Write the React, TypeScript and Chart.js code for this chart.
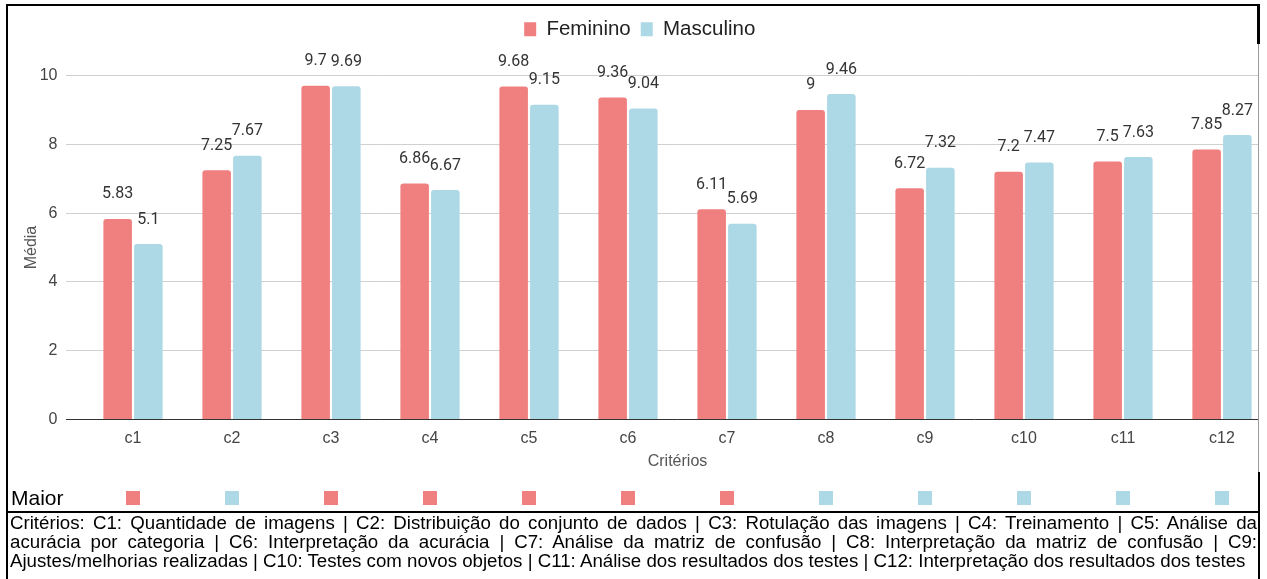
import React, { useEffect, useRef } from 'react';
import { Chart, registerables } from 'chart.js';

Chart.register(...registerables);

const categories = ['c1', 'c2', 'c3', 'c4', 'c5', 'c6', 'c7', 'c8', 'c9', 'c10', 'c11', 'c12'];
const seriesNames = ['Feminino', 'Masculino'];
const feminino = [5.83, 7.25, 9.7, 6.86, 9.68, 9.36, 6.11, 9, 6.72, 7.2, 7.5, 7.85];
const masculino = [5.1, 7.67, 9.69, 6.67, 9.15, 9.04, 5.69, 9.46, 7.32, 7.47, 7.63, 8.27];
const yTickValues = [0, 2, 4, 6, 8, 10];
const xTitle = 'Critérios';
const yTitle = 'Média';
const rowLabel = 'Maior';
const footerLines = [
  'Critérios: C1: Quantidade de imagens | C2: Distribuição do conjunto de dados | C3: Rotulação das imagens | C4: Treinamento | C5: Análise da',
  'acurácia por categoria | C6: Interpretação da acurácia | C7: Análise da matriz de confusão | C8: Interpretação da matriz de confusão | C9:',
  'Ajustes/melhorias realizadas | C10: Testes com novos objetos | C11: Análise dos resultados dos testes | C12: Interpretação dos resultados dos testes',
];

const RED = '#F08080';
const BLUE = '#ADD8E6';
const FONT = '"Liberation Sans", Arial, sans-serif';

const legendSpacer = {
  id: 'legendSpacer',
  beforeInit(chart: any) {
    const lg = chart.legend;
    if (!lg || lg.__patched) return;
    const fit = lg.fit;
    lg.fit = function () {
      fit.call(this);
      this.height += 26;
    };
    lg.__patched = true;
  },
};

const valueLabels = {
  id: 'valueLabels',
  afterDatasetsDraw(chart: any) {
    const ctx = chart.ctx;
    ctx.save();
    ctx.font = '16px Roboto, "Noto Sans", sans-serif';
    ctx.fillStyle = '#333333';
    ctx.textAlign = 'center';
    ctx.textBaseline = 'middle';
    chart.data.datasets.forEach((ds: any, di: number) => {
      const meta = chart.getDatasetMeta(di);
      meta.data.forEach((el: any, i: number) => {
        ctx.fillText(String(ds.data[i]), el.x, el.y - 24.5);
      });
    });
    const xs = chart.scales.x;
    categories.forEach((_c, i) => {
      const x = xs.getPixelForValue(i);
      ctx.fillStyle = feminino[i] > masculino[i] ? RED : BLUE;
      ctx.fillRect(Math.round(x - 7), 485, 14, 14);
    });
    ctx.restore();
  },
};

function BarChart() {
  const ref = useRef<HTMLCanvasElement | null>(null);
  useEffect(() => {
    if (!ref.current) return;
    const chart = new Chart(ref.current, {
      type: 'bar',
      data: {
        labels: categories,
        datasets: [
          {
            label: seriesNames[0],
            data: feminino,
            backgroundColor: RED,
            borderRadius: 3,
            borderSkipped: 'start',
            categoryPercentage: 0.62,
            barPercentage: 0.93,
          },
          {
            label: seriesNames[1],
            data: masculino,
            backgroundColor: BLUE,
            borderRadius: 3,
            borderSkipped: 'start',
            categoryPercentage: 0.62,
            barPercentage: 0.93,
          },
        ],
      },
      options: {
        responsive: false,
        animation: false,
        devicePixelRatio: 1,
        layout: { padding: { top: 3, right: 16.5, bottom: 39, left: 0 } },
        plugins: {
          legend: {
            display: true,
            position: 'top',
            labels: {
              boxWidth: 12,
              boxHeight: 14,
              padding: 10,
              color: '#222222',
              font: { family: FONT, size: 20.5 },
            },
          },
          tooltip: { enabled: false },
        },
        scales: {
          x: {
            grid: { display: false, drawTicks: false },
            border: { display: false },
            ticks: {
              padding: 9,
              color: '#444444',
              font: { family: FONT, size: 16, lineHeight: 1.2 },
            },
            title: {
              display: true,
              text: xTitle,
              color: '#555555',
              padding: { top: -5, bottom: 0 },
              font: { family: FONT, size: 16, lineHeight: 1.2 },
            },
          },
          y: {
            min: 0,
            max: 10,
            afterBuildTicks(scale: any) {
              scale.ticks = yTickValues.map((v) => ({ value: v }));
            },
            afterFit(scale: any) {
              scale.width = 75.5;
            },
            grid: {
              color: (c: any) => (c.tick && c.tick.value === 0 ? '#333333' : '#d0d0d0'),
              lineWidth: 1,
              drawTicks: true,
              tickLength: 17.5,
            },
            border: { display: false },
            ticks: {
              padding: 8.5,
              color: '#444444',
              font: { family: FONT, size: 16 },
            },
            title: {
              display: true,
              text: yTitle,
              color: '#555555',
              padding: { top: 13.6, bottom: 0 },
              font: { family: FONT, size: 16, lineHeight: 1.2 },
            },
          },
        },
      },
      plugins: [legendSpacer, valueLabels],
    } as any);
    return () => chart.destroy();
  }, []);
  return <canvas ref={ref} width={1280} height={504} style={{ display: 'block', width: 1280, height: 504 }} />;
}

export default function App() {
  const black = '#000000';
  return (
    <div
      style={{
        position: 'fixed',
        left: 0,
        top: 0,
        width: 1267,
        height: 579,
        background: '#ffffff',
        overflow: 'hidden',
      }}
    >
      <div style={{ position: 'absolute', left: 8, top: 6, width: 1250, height: 504, overflow: 'hidden' }}>
        <BarChart />
      </div>
      <div style={{ position: 'absolute', left: 6, top: 4, width: 1254, height: 2, background: black }} />
      <div style={{ position: 'absolute', left: 6, top: 4, width: 2, height: 575, background: black }} />
      <div style={{ position: 'absolute', left: 1257, top: 4, width: 3, height: 40, background: black }} />
      <div style={{ position: 'absolute', left: 1258, top: 44, width: 1, height: 428, background: '#999999' }} />
      <div style={{ position: 'absolute', left: 1258, top: 472, width: 2, height: 107, background: black }} />
      <div style={{ position: 'absolute', left: 6, top: 511, width: 1254, height: 2, background: black }} />
      <div
        style={{
          position: 'absolute',
          left: 11,
          top: 487,
          fontFamily: FONT,
          fontSize: 21,
          lineHeight: '22px',
          color: black,
        }}
      >
        {rowLabel}
      </div>
      <div
        style={{
          position: 'absolute',
          left: 10,
          top: 513,
          width: 1247,
          fontFamily: FONT,
          fontSize: 18.7,
          lineHeight: '19px',
          color: black,
        }}
      >
        {footerLines.map((line, i) => {
          const justify = i < footerLines.length - 1;
          return (
            <div
              key={i}
              style={{
                whiteSpace: justify ? 'normal' : 'nowrap',
                textAlign: justify ? 'justify' : 'left',
                textAlignLast: justify ? 'justify' : 'left',
              } as any}
            >
              {line}
            </div>
          );
        })}
      </div>
    </div>
  );
}
